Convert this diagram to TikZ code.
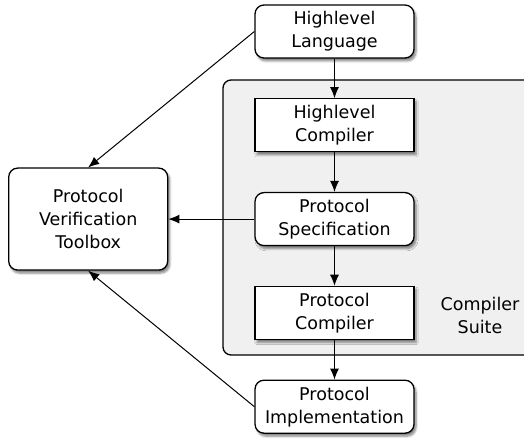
\documentclass[tikz,border=0pt]{standalone}
\usepackage{fontspec}
\setmainfont{DejaVu Sans}
\usetikzlibrary{arrows.meta, positioning, shadows.blur}
\definecolor{suitegray}{RGB}{240,240,240}

\begin{document}
\begin{tikzpicture}[x=1pt, y=-1pt,
		node distance=39.5pt,
		font=\fontsize{17.5}{23}\selectfont,
		stage/.style={draw, line width=1.3pt, fill=white, minimum width=159pt, minimum height=53pt,
			align=center, inner sep=0pt,
			blur shadow={shadow xshift=2pt, shadow yshift=-3pt, shadow blur steps=6, shadow opacity=50}},
		artifact/.style={stage, rounded corners=9pt},
		arrow/.style={-{Latex[length=11pt, width=9pt]}, line width=1pt}
	]
		\useasboundingbox (0,0) rectangle (524,443);
		% compiler suite background
		\draw[line width=1.3pt, fill=suitegray, rounded corners=8pt] (223,80) rectangle (540,355);
		\node[align=center] (suite) at (480,315) {Compiler\\Suite};

		\node[artifact] (lang) at (334.5,31.5) {Highlevel\\Language};
		\node[stage, below=of lang] (hlcomp) {Highlevel\\Compiler};
		\node[artifact, below=of hlcomp] (spec) {Protocol\\Specification};
		\node[stage, below=of spec] (pcomp) {Protocol\\Compiler};
		\node[artifact, below=of pcomp] (impl) {Protocol\\Implementation};
		\node[artifact, minimum height=102pt, left=86pt of spec] (toolbox) {Protocol\\Verification\\Toolbox};

		\draw[arrow] (lang) -- (hlcomp);
		\draw[arrow] (hlcomp) -- (spec);
		\draw[arrow] (spec) -- (pcomp);
		\draw[arrow] (pcomp) -- (impl);
		\draw[arrow] (spec) -- (toolbox);
		\draw[arrow] (lang.west) -- (toolbox.north);
		\draw[arrow] (impl.west) -- (toolbox.south);
	\end{tikzpicture}
\end{document}
